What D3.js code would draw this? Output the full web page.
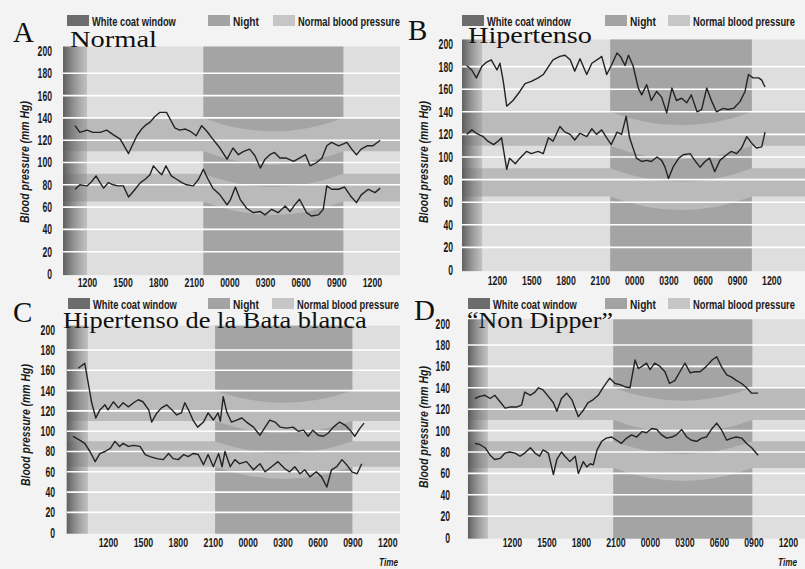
<!DOCTYPE html>
<html>
<head>
<meta charset="utf-8">
<script src="https://cdn.jsdelivr.net/npm/d3@7"></script>
<style>
  body { margin: 0; background: #f3f3f3; }
  svg { display: block; }
</style>
</head>
<body>
<script>
const W = 805, H = 569;

// ---- data ----
const panelLetters = ["A", "B", "C", "D"];
const panelTitles = ["Normal", "Hipertenso", "Hipertenso de la Bata blanca", "\u201cNon Dipper\u201d"];
const legendLabels = ["White coat window", "Night", "Normal blood pressure"];
const yTitle = "Blood pressure (mm Hg)";

const timeTicks = [12, 15, 18, 21, 24, 27, 30, 33, 36];
const timeLabels = ["1200", "1500", "1800", "2100", "0000", "0300", "0600", "0900", "1200"];
const bpTicks = [0, 20, 40, 60, 80, 100, 120, 140, 160, 180, 200];
const gridValues = [20, 40, 60, 80, 100, 120, 140, 160, 180];

const normalSys = [110, 140];
const normalDia = [65, 90];
const nightDip = 12;

// hours (12 = noon, 24 = midnight, 36 = noon next day)
const coatWindows = [[9.98, 12.0], [8.94, 10.7], [8.45, 10.28], [8.17, 9.9]];
const nightWindows = [[21.8, 33.6], [21.9, 34.3], [21.2, 33.0], [20.8, 32.9]];

// A - Normal
const sysTimeA = [10.99, 11.4, 12.0, 12.5, 13.1, 13.66, 14.2, 14.8, 15.5, 15.8, 16.2, 16.6, 17.0, 17.3, 17.7, 18.15, 18.7, 19.0, 19.4, 19.8, 20.3, 20.7, 21.2, 21.66, 22.1, 22.6, 23.2, 23.8, 24.3, 24.75, 25.2, 25.7, 26.15, 26.6, 27.0, 27.4, 27.8, 28.25, 28.8, 29.4, 29.9, 30.4, 30.8, 31.35, 31.8, 32.2, 32.6, 33.2, 33.9, 34.3, 34.7, 35.1, 35.6, 36.1, 36.7];
const sysA = [133, 127, 129, 127, 127, 129, 125, 121, 108, 115, 124, 130, 134, 136, 141, 145, 145, 139, 131, 129, 130, 128, 124, 133, 128, 121, 113, 103, 113, 107, 110, 112, 106, 95, 103, 107, 109, 104, 104, 101, 104, 107, 97, 100, 104, 115, 118, 115, 118, 112, 107, 112, 115, 115, 120];
const diaTimeA = [11.0, 11.4, 12.0, 12.4, 12.76, 13.1, 13.4, 13.8, 14.2, 14.6, 15.06, 15.5, 15.9, 16.5, 16.9, 17.3, 17.6, 18.0, 18.3, 18.65, 19.1, 19.55, 20.0, 20.4, 20.95, 21.4, 21.8, 22.2, 22.6, 23.2, 23.8, 24.1, 24.5, 24.9, 25.45, 26.0, 26.6, 27.0, 27.56, 28.1, 28.7, 29.1, 29.5, 29.9, 30.5, 30.9, 31.5, 31.9, 32.2, 32.6, 33.2, 33.7, 34.2, 34.7, 35.1, 35.7, 36.26, 36.7];
const diaA = [76, 80, 79, 83, 88, 82, 77, 82, 80, 79, 79, 69, 74, 82, 85, 89, 97, 92, 89, 97, 88, 85, 82, 80, 79, 85, 94, 85, 77, 71, 62, 67, 78, 67, 59, 55, 56, 53, 58, 55, 61, 56, 62, 67, 55, 52, 53, 58, 79, 76, 76, 78, 70, 64, 71, 76, 73, 77];

// B - Hipertenso
const sysTimeB = [9.35, 9.79, 10.2, 10.66, 11.1, 11.5, 12.0, 12.26, 12.55, 12.85, 13.4, 14.0, 14.45, 15.0, 15.6, 16.05, 16.5, 16.9, 17.5, 17.95, 18.4, 18.8, 19.26, 19.85, 20.3, 20.9, 21.16, 21.6, 22.0, 22.5, 22.8, 23.2, 23.5, 23.9, 24.36, 24.66, 25.1, 25.5, 25.97, 26.4, 26.85, 27.3, 27.7, 28.16, 28.6, 29.0, 29.5, 29.9, 30.35, 30.8, 31.2, 31.8, 32.2, 32.7, 33.26, 33.7, 34.0, 34.4, 34.9, 35.16, 35.45];
const sysB = [181, 177, 170, 180, 184, 186, 177, 183, 167, 145, 150, 158, 165, 167, 170, 173, 180, 186, 189, 190, 186, 176, 187, 173, 183, 187, 189, 173, 181, 192, 189, 181, 190, 181, 161, 155, 164, 150, 158, 153, 139, 161, 150, 152, 148, 155, 140, 142, 161, 149, 140, 143, 142, 143, 149, 158, 173, 170, 170, 168, 162];
const diaTimeB = [9.35, 9.8, 10.2, 10.8, 11.2, 11.7, 12.1, 12.4, 12.85, 13.1, 13.6, 14.0, 14.6, 15.0, 15.6, 16.05, 16.5, 16.9, 17.5, 17.95, 18.4, 18.8, 19.26, 19.85, 20.3, 20.7, 21.16, 21.6, 22.0, 22.5, 22.9, 23.3, 23.6, 24.2, 24.66, 25.1, 25.5, 26.0, 26.4, 26.7, 27.0, 27.4, 27.9, 28.3, 28.9, 29.3, 29.76, 30.2, 30.6, 31.05, 31.5, 32.1, 32.5, 32.97, 33.4, 33.85, 34.3, 34.7, 35.16, 35.45];
const diaB = [120, 124, 121, 118, 114, 111, 114, 117, 89, 99, 94, 99, 105, 103, 105, 103, 117, 114, 127, 122, 120, 115, 121, 118, 125, 120, 124, 117, 111, 122, 120, 136, 117, 99, 96, 97, 96, 100, 97, 91, 81, 91, 99, 102, 103, 97, 91, 96, 99, 87, 97, 102, 105, 103, 108, 118, 112, 108, 109, 122];

// C - Hipertenso de la Bata blanca
const sysTimeC = [9.45, 10.0, 10.4, 10.6, 10.95, 11.3, 11.74, 12.0, 12.46, 12.9, 13.3, 13.75, 14.2, 14.6, 15.0, 15.5, 15.75, 16.2, 16.6, 17.04, 17.5, 17.9, 18.3, 18.6, 19.0, 19.3, 19.7, 20.2, 20.6, 21.05, 21.45, 21.65, 21.9, 22.2, 22.6, 23.06, 23.5, 23.9, 24.5, 25.05, 25.5, 25.9, 26.35, 26.8, 27.35, 27.9, 28.35, 28.8, 29.2, 29.6, 30.06, 30.5, 30.9, 31.36, 31.9, 32.36, 32.8, 33.2, 33.65, 34.0];
const sysC = [162, 167, 141, 128, 113, 121, 126, 121, 129, 123, 128, 124, 128, 131, 129, 121, 109, 118, 123, 126, 121, 116, 118, 128, 119, 111, 104, 109, 118, 111, 118, 110, 134, 119, 109, 111, 113, 109, 104, 96, 104, 111, 109, 104, 103, 104, 100, 101, 95, 101, 96, 95, 98, 104, 109, 106, 101, 95, 103, 108];
const diaTimeC = [9.0, 9.6, 10.0, 10.45, 10.9, 11.3, 11.74, 12.2, 12.6, 13.0, 13.3, 13.75, 14.2, 14.75, 15.2, 15.6, 16.2, 16.75, 17.2, 17.6, 18.04, 18.5, 18.9, 19.3, 19.75, 20.2, 20.6, 21.05, 21.5, 21.8, 22.05, 22.5, 22.9, 23.3, 23.9, 24.5, 25.05, 25.5, 26.05, 26.6, 27.2, 27.6, 28.05, 28.5, 28.9, 29.35, 29.9, 30.35, 30.8, 31.2, 31.65, 32.1, 32.5, 32.95, 33.4, 33.8];
const diaC = [95, 91, 88, 80, 70, 78, 80, 83, 90, 85, 88, 85, 86, 85, 77, 75, 73, 72, 78, 73, 72, 77, 75, 78, 77, 67, 77, 65, 78, 65, 80, 65, 72, 68, 70, 62, 68, 60, 65, 70, 63, 60, 65, 58, 62, 55, 60, 55, 45, 62, 65, 72, 67, 60, 58, 68];

// D - "Non Dipper"
const sysTimeD = [8.78, 9.2, 9.65, 10.1, 10.5, 10.96, 11.4, 11.8, 12.4, 12.84, 13.1, 13.6, 14.0, 14.3, 14.7, 15.16, 15.6, 15.9, 16.3, 16.75, 17.2, 17.77, 18.2, 18.6, 19.07, 19.5, 19.9, 20.5, 20.96, 21.4, 21.8, 22.26, 22.7, 22.98, 23.3, 23.7, 24.0, 24.4, 24.87, 25.3, 25.7, 26.17, 26.6, 27.04, 27.5, 27.9, 28.35, 28.9, 29.4, 29.8, 30.2, 30.67, 31.1, 31.5, 31.97, 32.4, 32.84, 33.4];
const sysD = [130, 132, 133, 130, 133, 127, 121, 122, 122, 124, 136, 133, 136, 140, 138, 132, 126, 118, 130, 135, 129, 113, 119, 126, 129, 133, 140, 149, 144, 143, 141, 140, 166, 158, 160, 163, 157, 163, 160, 155, 144, 147, 155, 163, 154, 155, 155, 160, 166, 169, 160, 152, 150, 147, 144, 140, 135, 135];
const diaTimeD = [8.78, 9.2, 9.65, 10.1, 10.5, 10.96, 11.4, 11.8, 12.26, 12.7, 13.1, 13.6, 14.0, 14.4, 14.7, 15.16, 15.6, 15.9, 16.3, 16.6, 17.04, 17.5, 17.77, 18.2, 18.5, 18.8, 19.07, 19.4, 19.8, 20.2, 20.67, 21.1, 21.5, 21.97, 22.4, 22.84, 23.3, 23.7, 24.15, 24.6, 25.0, 25.45, 25.9, 26.3, 26.76, 27.2, 27.6, 28.06, 28.5, 28.9, 29.4, 29.8, 30.2, 30.67, 31.1, 31.5, 31.97, 32.4, 32.84, 33.4];
const diaD = [88, 87, 84, 77, 73, 74, 79, 80, 79, 76, 79, 84, 79, 76, 82, 79, 59, 73, 80, 76, 71, 76, 60, 71, 66, 69, 68, 82, 90, 93, 94, 91, 88, 93, 96, 94, 99, 98, 102, 101, 96, 93, 94, 96, 101, 94, 91, 90, 93, 94, 102, 107, 101, 91, 93, 94, 93, 88, 84, 77];

const sysTimes = [sysTimeA, sysTimeB, sysTimeC, sysTimeD];
const sysValues = [sysA, sysB, sysC, sysD];
const diaTimes = [diaTimeA, diaTimeB, diaTimeC, diaTimeD];
const diaValues = [diaA, diaB, diaC, diaD];

// ---- layout (pixels) of each scanned panel ----
const layout = [
  { left: 63,  right: 400, x12: 87,  pph: 11.87, y200: 51,    y0: 274,   legX: 67,  legY: 15,  legGap: [0, 141, 206], letterX: 13,  letterY: 42,  titleX: 70,  titleY: 47,  titleW: 87,  yLabX: 52,  yTitleX: 29,  yTitleY: 162, xLabY: 287, time: false },
  { left: 462, right: 805, x12: 497, pph: 11.43, y200: 44,    y0: 270,   legX: 462, legY: 15,  legGap: [0, 143, 206], letterX: 408, letterY: 40,  titleX: 468, titleY: 43,  titleW: 124, yLabX: 453, yTitleX: 428, yTitleY: 162, xLabY: 285, time: false },
  { left: 67,  right: 400, x12: 108, pph: 11.64, y200: 329.7, y0: 532.7, legX: 68,  legY: 298, legGap: [0, 140, 204], letterX: 13,  letterY: 322, titleX: 63,  titleY: 328, titleW: 304, yLabX: 55,  yTitleX: 30,  yTitleY: 425, xLabY: 547, time: true, timeX: 398, timeY: 566 },
  { left: 468, right: 805, x12: 512, pph: 11.5,  y200: 323.6, y0: 537.6, legX: 468, legY: 298, legGap: [0, 137, 200], letterX: 414, letterY: 320, titleX: 467, titleY: 328, titleW: 146, yLabX: 450, yTitleX: 428, yTitleY: 427, xLabY: 547, time: true, timeX: 797, timeY: 566 }
];

const sans = "'Liberation Sans',Arial,sans-serif";
const serif = "'Liberation Serif','Times New Roman',serif";
const legendFills = ["#6c6c6c", "#a3a3a3", "#c6c6c6"];
const legendW = [84, 26, 102];

// squeeze a text horizontally to a target width (the scan uses a condensed face)
function squeeze(sel, target, pre) {
  sel.each(function() {
    const t = d3.select(this);
    const w = this.getComputedTextLength();
    const tw = typeof target === "function" ? target(t.text()) : target;
    const k = w > 0 ? tw / w : 1;
    t.attr("transform", `${pre || ""} scale(${k},1)`);
  });
}

const svg = d3.select("body").append("svg")
  .attr("width", W)
  .attr("height", H);

const defs = svg.append("defs");
const grad = defs.append("linearGradient")
  .attr("id", "coat")
  .attr("x1", "0").attr("x2", "1").attr("y1", "0").attr("y2", "0");
grad.append("stop").attr("offset", "0%").attr("stop-color", "#505050").attr("stop-opacity", 0.9);
grad.append("stop").attr("offset", "100%").attr("stop-color", "#8a8a8a").attr("stop-opacity", 0.35);

svg.append("rect").attr("width", W).attr("height", H).attr("fill", "#f3f3f3");

layout.forEach((p, i) => {
  const g = svg.append("g");

  const x = d3.scaleLinear()
    .domain([12, 36])
    .range([p.x12, p.x12 + 24 * p.pph]);
  const y = d3.scaleLinear()
    .domain([0, 200])
    .range([p.y0, p.y200]);

  const xLeft = p.left, xRight = p.right;
  const top = y(204), bottom = y(-1);

  // plot background
  g.append("rect")
    .attr("x", xLeft).attr("y", top)
    .attr("width", xRight - xLeft).attr("height", bottom - top)
    .attr("fill", "#dedede");

  // night
  const [ns, ne] = nightWindows[i];
  g.append("rect")
    .attr("x", x(ns)).attr("y", top)
    .attr("width", x(ne) - x(ns)).attr("height", bottom - top)
    .attr("fill", "#a4a4a4");

  // normal blood pressure bands, dipping during the night
  const xm = (x(ns) + x(ne)) / 2;
  [normalSys, normalDia].forEach(([lo, hi]) => {
    const path = d3.path();
    path.moveTo(xLeft, y(hi));
    path.lineTo(x(ns), y(hi));
    path.quadraticCurveTo(xm, y(hi - 2 * nightDip), x(ne), y(hi));
    path.lineTo(xRight, y(hi));
    path.lineTo(xRight, y(lo));
    path.lineTo(x(ne), y(lo));
    path.quadraticCurveTo(xm, y(lo - 2 * nightDip), x(ns), y(lo));
    path.lineTo(xLeft, y(lo));
    path.closePath();
    g.append("path")
      .attr("d", path.toString())
      .attr("fill", "#bababa");
  });

  // white coat window
  const [cs, ce] = coatWindows[i];
  g.append("rect")
    .attr("x", x(cs)).attr("y", top)
    .attr("width", x(ce) - x(cs)).attr("height", bottom - top)
    .attr("fill", "url(#coat)");

  // white grid lines
  g.append("g")
    .selectAll("line")
    .data(gridValues)
    .join("line")
    .attr("x1", xLeft).attr("x2", xRight)
    .attr("y1", d => y(d)).attr("y2", d => y(d))
    .attr("stroke", "#ffffff")
    .attr("stroke-width", 1.6);

  // series
  const line = d3.line()
    .x(d => x(d[0]))
    .y(d => y(d[1]));
  [[sysTimes[i], sysValues[i]], [diaTimes[i], diaValues[i]]].forEach(([ts, vs]) => {
    g.append("path")
      .datum(d3.zip(ts, vs))
      .attr("d", line)
      .attr("fill", "none")
      .attr("stroke", "#232323")
      .attr("stroke-width", 1.4)
      .attr("stroke-linejoin", "round");
  });

  // y axis labels
  const yAxis = g.append("g")
    .attr("transform", `translate(${p.yLabX},0)`)
    .call(d3.axisLeft(y).tickValues(bpTicks).tickSize(0).tickPadding(0));
  yAxis.select(".domain").remove();
  yAxis.selectAll("text")
    .attr("font-family", sans)
    .attr("font-weight", "bold")
    .attr("font-size", 14)
    .attr("fill", "#1a1a1a")
    .call(squeeze, s => s.length * 4.8);

  // x axis labels
  const xAxis = g.append("g")
    .attr("transform", `translate(0,${p.xLabY - 9})`)
    .call(d3.axisBottom(x)
      .tickValues(timeTicks)
      .tickSize(0)
      .tickPadding(0)
      .tickFormat((d, k) => timeLabels[k]));
  xAxis.select(".domain").remove();
  xAxis.selectAll("text")
    .attr("font-family", sans)
    .attr("font-weight", "bold")
    .attr("font-size", 13)
    .attr("fill", "#1a1a1a")
    .call(squeeze, 19.5);

  // y axis title
  g.append("text")
    .attr("text-anchor", "middle")
    .attr("font-family", sans)
    .attr("font-style", "italic")
    .attr("font-weight", "bold")
    .attr("font-size", 12)
    .attr("fill", "#1a1a1a")
    .text(yTitle)
    .call(squeeze, 122, `translate(${p.yTitleX},${p.yTitleY}) rotate(-90)`);

  if (p.time) {
    g.append("text")
      .attr("text-anchor", "end")
      .attr("font-family", sans)
      .attr("font-style", "italic")
      .attr("font-weight", "bold")
      .attr("font-size", 10)
      .attr("fill", "#1a1a1a")
      .text("Time")
      .call(squeeze, 19, `translate(${p.timeX},${p.timeY})`);
  }

  // legend
  const leg = g.append("g").attr("transform", `translate(${p.legX},${p.legY})`);
  legendLabels.forEach((lab, k) => {
    leg.append("rect")
      .attr("x", p.legGap[k]).attr("y", 0)
      .attr("width", 22).attr("height", 11)
      .attr("fill", legendFills[k]);
    leg.append("text")
      .attr("font-family", sans)
      .attr("font-weight", "bold")
      .attr("font-size", 13)
      .attr("fill", "#1a1a1a")
      .text(lab)
      .call(squeeze, legendW[k], `translate(${p.legGap[k] + 25},10.5)`);
  });

  // panel letter and title
  g.append("text")
    .attr("x", p.letterX).attr("y", p.letterY)
    .attr("font-family", serif)
    .attr("font-size", 29)
    .attr("fill", "#111")
    .text(panelLetters[i]);
  g.append("text")
    .attr("font-family", serif)
    .attr("font-size", 23)
    .attr("fill", "#111")
    .text(panelTitles[i])
    .call(squeeze, p.titleW, `translate(${p.titleX},${p.titleY})`);
});
</script>
</body>
</html>
